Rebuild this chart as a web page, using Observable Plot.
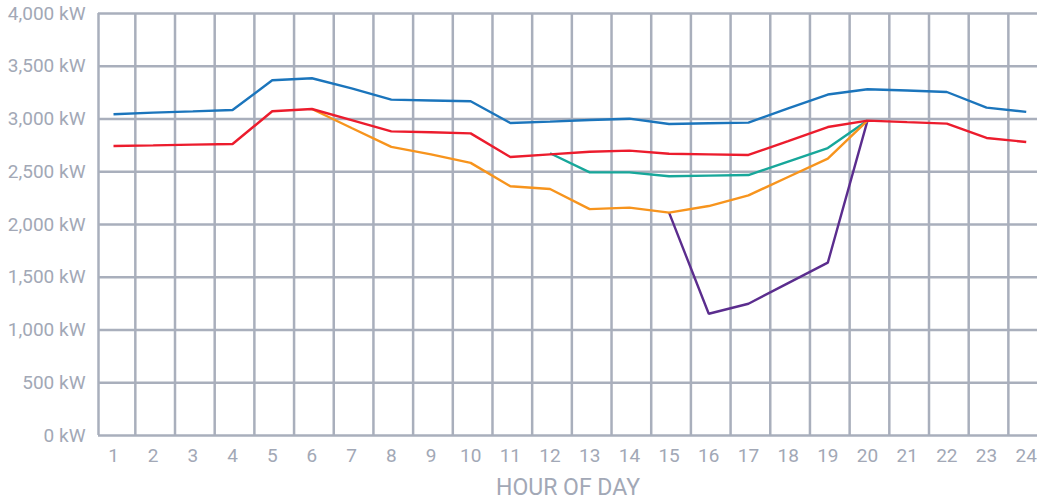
<!DOCTYPE html>
<html>
<head>
<meta charset="utf-8">
<script src="https://cdn.jsdelivr.net/npm/d3@7"></script>
<script src="https://cdn.jsdelivr.net/npm/@observablehq/plot@0.6"></script>
<style>
  html, body { margin: 0; padding: 0; background: #ffffff; }
  #chart { width: 1037px; height: 500px; overflow: hidden; }
</style>
</head>
<body>
<div id="chart"></div>
<script>
// ---- data ----
const hours = [1,2,3,4,5,6,7,8,9,10,11,12,13,14,15,16,17,18,19,20,21,22,23,24];
const blueLoad = [3045,3060,3072,3086,3367,3386,3290,3184,3176,3168,2962,2975,2990,3003,2953,2960,2966,3100,3232,3282,3270,3256,3108,3067];
const redLoad  = [2744,2750,2757,2763,3073,3095,2990,2883,2874,2864,2640,2665,2690,2700,2670,2665,2659,2790,2924,2985,2970,2956,2820,2782];
const orangeHours = [6,7,8,9,10,11,12,13,14,15,16,17,18,19,20];
const orangeLoad  = [3095,2915,2736,2665,2584,2362,2336,2146,2160,2112,2175,2276,2450,2624,2985];
const tealHours = [12,13,14,15,16,17,18,19,20];
const tealLoad  = [2675,2494,2494,2457,2463,2469,2597,2725,2985];
const purpleHours = [15,16,17,18,19,20];
const purpleLoad  = [2112,1154,1249,1444,1638,2985];
const yTicks = [0,500,1000,1500,2000,2500,3000,3500,4000];
const xTicks = hours;

const seriesColors = {
  blue: "#1b75bc",
  red: "#ec1c2d",
  orange: "#f7941d",
  teal: "#17a79a",
  purple: "#5b2d8e"
};

function rows(name, hs, vs) { return hs.map((h, i) => ({series: name, hour: h, kw: vs[i]})); }
const data = [
  ...rows("purple", purpleHours, purpleLoad),
  ...rows("teal", tealHours, tealLoad),
  ...rows("orange", orangeHours, orangeLoad),
  ...rows("red", hours, redLoad),
  ...rows("blue", hours, blueLoad)
];
const order = ["purple","teal","orange","red","blue"];

const xMin = 0.622, xMax = 24.284;
const gridColor = "#a9afbc";
const textColor = "#a2a8b6";
const gridX = [xMin, ...hours.slice(0, 23).map(h => h + 0.55)];

const chart = Plot.plot({
  width: 1037,
  height: 500,
  marginTop: 13,
  marginBottom: 65,
  marginLeft: 98,
  marginRight: 0,
  style: { fontFamily: "Roboto, 'Noto Sans', sans-serif", background: "#ffffff" },
  x: { domain: [xMin, xMax] },
  y: { domain: [0, 4000] },
  marks: [
    Plot.ruleY(yTicks, { x1: xMin, x2: xMax, stroke: gridColor, strokeWidth: 2.5 }),
    Plot.ruleX(gridX, { y1: 0, y2: 4000, stroke: gridColor, strokeWidth: 2.5 }),
    Plot.axisY(yTicks, {
      tickSize: 0, tickPadding: 13, fontSize: 19, color: textColor,
      tickFormat: d => d3.format(",")(d) + " kW", label: null
    }),
    Plot.axisX(xTicks, {
      tickSize: 0, tickPadding: 13, fontSize: 19, color: textColor,
      tickFormat: d => String(d), label: null
    }),
    ...order.map(s => Plot.line(data.filter(d => d.series === s), {
      x: "hour", y: "kw", stroke: seriesColors[s], strokeWidth: 2.4,
      strokeLinejoin: "miter", strokeLinecap: "butt"
    })),
    Plot.text(["HOUR OF DAY"], {
      frameAnchor: "bottom", dy: 52, fontSize: 23, fill: textColor,
      lineAnchor: "middle", textAnchor: "middle"
    })
  ]
});
document.getElementById("chart").appendChild(chart);
</script>
</body>
</html>
